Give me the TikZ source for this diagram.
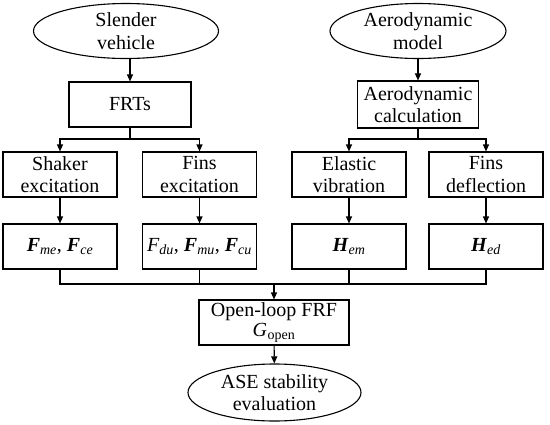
\documentclass[tikz,border=0pt]{standalone}
\usepackage{fontspec}
\setmainfont{Liberation Serif}
\usetikzlibrary{shapes.geometric,arrows.meta}

\newcommand{\bvec}[2]{\textbf{\textit{#1}}\textsubscript{\textit{#2}}}
\newcommand{\ivec}[2]{\textit{#1}\textsubscript{\textit{#2}}}

\begin{document}
\begin{tikzpicture}[x=1pt, y=-1pt, line width=1.1pt, >={Triangle[length=7pt,width=6pt]},
    box/.style={draw, rectangle, align=center, inner sep=0pt, minimum width=114pt, minimum height=45pt,
                font=\fontsize{20}{22.5}\selectfont},
    oval/.style={draw, ellipse, align=center, inner sep=0pt, minimum height=55pt,
                font=\fontsize{20}{22.5}\selectfont}]
    \useasboundingbox (0,0) rectangle (550,424);

    % left branch: tests
    \node[oval, minimum width=185pt] (sv) at (126,31) {Slender\\vehicle};
    \node[box, minimum width=122pt] (frt) at (130,104.5) {FRTs};
    \node[box] (shk) at (60,174.5) {Shaker\\excitation};
    \node[box] (fex) at (199.5,174.5) {Fins\\excitation};
    \node[box] (fme) at (60,246.5) {\bvec{F}{me}, \bvec{F}{ce}};
    \node[box] (fdu) at (199.5,246.5) {\ivec{F}{du}, \bvec{F}{mu}, \bvec{F}{cu}};

    % right branch: aerodynamics
    \node[oval, minimum width=176pt] (am) at (418,31) {Aerodynamic\\model};
    \node[box, minimum width=121pt, minimum height=47pt] (ac) at (418,104.5) {Aerodynamic\\calculation};
    \node[box] (ev) at (349,174.5) {Elastic\\vibration};
    \node[box] (fd) at (486,174.5) {Fins\\deflection};
    \node[box] (hem) at (349,246.5) {\bvec{H}{em}};
    \node[box] (hed) at (486,246.5) {\bvec{H}{ed}};

    % result
    \node[box, minimum width=150pt] (ol) at (274,322.5) {Open-loop FRF\\[-3pt]\ivec{G}{}\textsubscript{open}};
    \node[oval, minimum width=173pt, minimum height=57pt] (ase) at (274.5,392.5) {ASE stability\\evaluation};

    \coordinate (s1) at (130,139);
    \coordinate (s2) at (418,139);
    \coordinate (m) at (274,284);

    \draw[->] (sv.south -| frt.north) -- (frt);
    \draw (frt) -- (s1);
    \draw[->] (s1) -| (shk);
    \draw[->] (s1) -| (fex);
    \draw[->] (shk) -- (fme);
    \draw[->] (fex) -- (fdu);

    \draw[->] (am) -- (ac);
    \draw (ac) -- (s2);
    \draw[->] (s2) -| (ev);
    \draw[->] (s2) -| (fd);
    \draw[->] (ev) -- (hem);
    \draw[->] (fd) -- (hed);

    \draw (fme) |- (m);
    \draw (fdu) |- (m);
    \draw (hem) |- (m);
    \draw (hed) |- (m);
    \draw[->] (m) -- (ol);
    \draw[->] (ol) -- (ase);
\end{tikzpicture}
\end{document}
